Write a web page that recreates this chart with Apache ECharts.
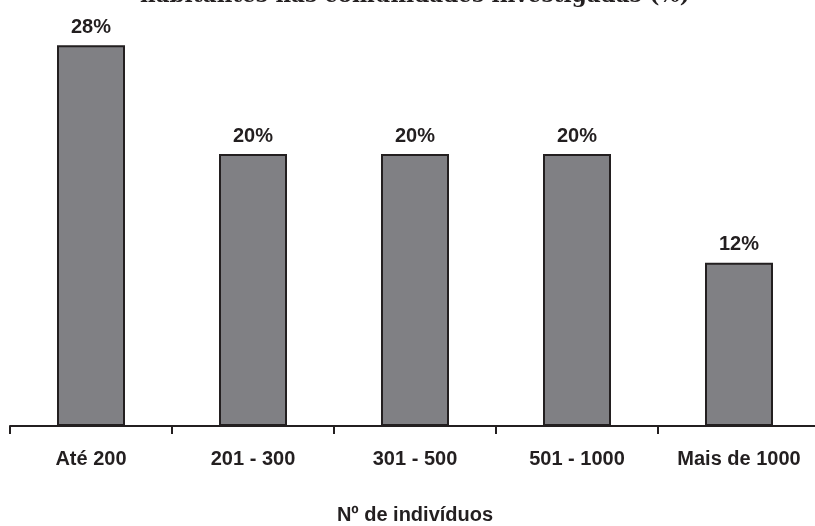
<!DOCTYPE html>
<html>
<head>
<meta charset="utf-8">
<script src="https://cdn.jsdelivr.net/npm/echarts@6/dist/echarts.min.js"></script>
<style>
  html, body { margin: 0; padding: 0; background: #ffffff; }
  #chart { width: 815px; height: 526px; }
</style>
</head>
<body>
<div id="chart"></div>
<script>
// Population size classes of the surveyed communities
const categories = ['Até 200', '201 - 300', '301 - 500', '501 - 1000', 'Mais de 1000'];
// Share of communities in each class (%)
const shares = [28, 20, 20, 20, 12];

const titleText = 'habitantes nas comunidades investigadas (%)';
const axisTitle = 'Nº de indivíduos';

const ink = '#231f20';
const sans = 'Liberation Sans, Arial, sans-serif';

const chart = echarts.init(document.getElementById('chart'), null, { renderer: 'canvas' });
chart.setOption({
  backgroundColor: '#ffffff',
  animation: false,
  title: {
    text: titleText,
    left: 135,
    top: -20,
    textStyle: {
      fontFamily: 'DejaVu Serif, serif',
      fontWeight: 'bold',
      fontSize: 21.5,
      color: ink
    }
  },
  // plot area runs past the right edge so the last category is cut like the axis
  grid: {
    left: 10, width: 810, top: 18, bottom: 100,
    containLabel: false,
    outerBoundsMode: 'none'
  },
  xAxis: {
    type: 'category',
    data: categories,
    boundaryGap: true,
    axisLine: { show: true, lineStyle: { color: ink, width: 2 } },
    axisTick: { show: true, length: 8, lineStyle: { color: ink, width: 2 } },
    axisLabel: {
      margin: 23,
      fontFamily: sans,
      fontWeight: 'bold',
      fontSize: 20,
      color: ink
    },
    name: axisTitle,
    nameLocation: 'middle',
    nameGap: 79,
    nameTextStyle: {
      fontFamily: sans,
      fontWeight: 'bold',
      fontSize: 20,
      color: ink
    }
  },
  yAxis: {
    type: 'value',
    min: 0,
    max: 30,
    show: false
  },
  series: [{
    type: 'bar',
    data: shares,
    barWidth: 68,
    itemStyle: { color: '#808084', borderColor: ink, borderWidth: 2 },
    label: {
      show: true,
      position: 'top',
      distance: 8,
      formatter: '{c}%',
      fontFamily: sans,
      fontWeight: 'bold',
      fontSize: 20,
      color: ink
    }
  }]
});
</script>
</body>
</html>
